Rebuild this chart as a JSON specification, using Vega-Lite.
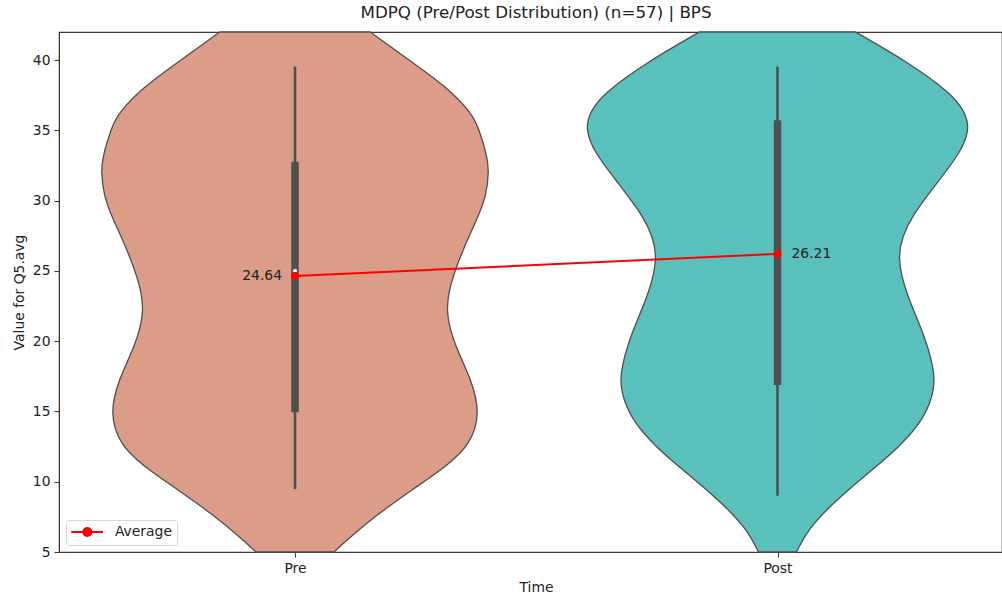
{
  "$schema": "https://vega.github.io/schema/vega-lite/v6.json",
  "width": 943,
  "height": 520,
  "autosize": {"type": "none"},
  "padding": {"left": 59, "top": 32, "right": 0, "bottom": 46},
  "background": "white",
  "config": {
    "font": "DejaVu Sans",
    "view": {"stroke": "#3a3a3a", "strokeWidth": 1.2},
    "axis": {
      "labelFont": "DejaVu Sans",
      "titleFont": "DejaVu Sans",
      "labelFontSize": 13.9,
      "titleFontSize": 13.9,
      "titleFontWeight": "normal",
      "labelColor": "#222222",
      "titleColor": "#222222",
      "tickColor": "#3a3a3a",
      "domainColor": "#3a3a3a",
      "tickSize": 5,
      "tickWidth": 1.1,
      "grid": false
    }
  },
  "title": {
    "text": "MDPQ (Pre/Post Distribution) (n=57) | BPS",
    "font": "DejaVu Sans",
    "fontSize": 16.7,
    "fontWeight": "normal",
    "color": "#222222",
    "anchor": "middle",
    "offset": 8,
    "dx": 5.5
  },
  "datasets": {
    "density": [
      {"Time": "Pre", "value": 5.0, "density": 0.201},
      {"Time": "Pre", "value": 5.85, "density": 0.268},
      {"Time": "Pre", "value": 7.55, "density": 0.412},
      {"Time": "Pre", "value": 9.49, "density": 0.61},
      {"Time": "Pre", "value": 11.18, "density": 0.789},
      {"Time": "Pre", "value": 12.64, "density": 0.902},
      {"Time": "Pre", "value": 14.82, "density": 0.955},
      {"Time": "Pre", "value": 17.24, "density": 0.911},
      {"Time": "Pre", "value": 19.67, "density": 0.823},
      {"Time": "Pre", "value": 22.09, "density": 0.775},
      {"Time": "Pre", "value": 24.03, "density": 0.799},
      {"Time": "Pre", "value": 26.46, "density": 0.863},
      {"Time": "Pre", "value": 28.88, "density": 0.945},
      {"Time": "Pre", "value": 30.34, "density": 0.985},
      {"Time": "Pre", "value": 32.03, "density": 1.0},
      {"Time": "Pre", "value": 33.25, "density": 0.99},
      {"Time": "Pre", "value": 35.19, "density": 0.945},
      {"Time": "Pre", "value": 36.16, "density": 0.915},
      {"Time": "Pre", "value": 38.1, "density": 0.782},
      {"Time": "Pre", "value": 40.04, "density": 0.584},
      {"Time": "Pre", "value": 42.0, "density": 0.387},
      {"Time": "Post", "value": 5.0, "density": 0.099},
      {"Time": "Post", "value": 6.58, "density": 0.156},
      {"Time": "Post", "value": 8.52, "density": 0.291},
      {"Time": "Post", "value": 10.46, "density": 0.457},
      {"Time": "Post", "value": 12.4, "density": 0.629},
      {"Time": "Post", "value": 14.58, "density": 0.769},
      {"Time": "Post", "value": 16.76, "density": 0.82},
      {"Time": "Post", "value": 18.21, "density": 0.81},
      {"Time": "Post", "value": 20.64, "density": 0.758},
      {"Time": "Post", "value": 23.55, "density": 0.662},
      {"Time": "Post", "value": 25.97, "density": 0.624},
      {"Time": "Post", "value": 27.43, "density": 0.649},
      {"Time": "Post", "value": 28.88, "density": 0.696},
      {"Time": "Post", "value": 31.31, "density": 0.831},
      {"Time": "Post", "value": 33.49, "density": 0.955},
      {"Time": "Post", "value": 35.19, "density": 1.0},
      {"Time": "Post", "value": 36.4, "density": 0.97},
      {"Time": "Post", "value": 37.61, "density": 0.904},
      {"Time": "Post", "value": 39.79, "density": 0.686},
      {"Time": "Post", "value": 42.0, "density": 0.405}
    ],
    "summary": [
      {"Time": "Pre", "mean": 24.64, "q1": 14.94, "q3": 32.76, "whiskerLow": 9.49, "whiskerHigh": 39.55, "median": 25.0, "series": "Average"},
      {"Time": "Post", "mean": 26.21, "q1": 16.88, "q3": 35.72, "whiskerLow": 9.0, "whiskerHigh": 39.55, "median": null, "series": "Average"}
    ]
  },
  "layer": [
    {
      "data": {"name": "density"},
      "transform": [{"filter": "datum.Time === 'Pre'"}],
      "mark": {"type": "area", "orient": "horizontal", "interpolate": "basis", "fill": "#DB9D88", "fillOpacity": 1, "stroke": "#4f4f4f", "strokeWidth": 1.3},
      "encoding": {
        "y": {"field": "value", "type": "quantitative", "title": "Value for Q5.avg",
              "scale": {"domain": [5, 42], "nice": false, "zero": false},
              "axis": {"values": [5, 10, 15, 20, 25, 30, 35, 40], "labelPadding": 4, "titlePadding": 6}},
        "x": {"field": "density", "type": "quantitative", "stack": "center",
              "scale": {"domain": [-0.10825, 2.32216], "nice": false, "zero": false}, "axis": null}
      }
    },
    {
      "data": {"name": "density"},
      "transform": [{"filter": "datum.Time === 'Post'"}],
      "mark": {"type": "area", "orient": "horizontal", "interpolate": "basis", "fill": "#59C0BB", "fillOpacity": 1, "stroke": "#4f4f4f", "strokeWidth": 1.3},
      "encoding": {
        "y": {"field": "value", "type": "quantitative", "title": "Value for Q5.avg",
              "scale": {"domain": [5, 42], "nice": false, "zero": false}},
        "x": {"field": "density", "type": "quantitative", "stack": "center",
              "scale": {"domain": [-1.36623, 1.08312], "nice": false, "zero": false}, "axis": null}
      }
    },
    {
      "data": {"name": "summary"},
      "encoding": {
        "x": {"field": "Time", "type": "nominal", "sort": ["Pre", "Post"], "title": "Time",
              "scale": {"type": "point", "padding": 0.4772, "align": 0.51249},
              "axis": {"orient": "bottom", "labelAngle": 0, "labelPadding": 4, "titlePadding": 6, "titleX": 477}}
      },
      "layer": [
        {
          "mark": {"type": "rule", "color": "#4f4f4f", "strokeWidth": 2.6},
          "encoding": {
            "y": {"field": "whiskerLow", "type": "quantitative", "title": "Value for Q5.avg", "scale": {"domain": [5, 42], "nice": false, "zero": false}},
            "y2": {"field": "whiskerHigh"}
          }
        },
        {
          "mark": {"type": "rule", "color": "#4f4f4f", "strokeWidth": 7.5},
          "encoding": {
            "y": {"field": "q1", "type": "quantitative", "title": "Value for Q5.avg", "scale": {"domain": [5, 42], "nice": false, "zero": false}},
            "y2": {"field": "q3"}
          }
        },
        {
          "mark": {"type": "point", "filled": true, "color": "#e8e8e8", "opacity": 1, "size": 18},
          "encoding": {
            "y": {"field": "median", "type": "quantitative", "title": "Value for Q5.avg", "scale": {"domain": [5, 42], "nice": false, "zero": false}}
          }
        },
        {
          "mark": {"type": "line", "strokeWidth": 2},
          "encoding": {
            "y": {"field": "mean", "type": "quantitative", "title": "Value for Q5.avg", "scale": {"domain": [5, 42], "nice": false, "zero": false}},
            "stroke": {"field": "series", "type": "nominal", "scale": {"range": ["#ff0000"]},
              "legend": {
                "title": null,
                "orient": "bottom-left",
                "offset": 7,
                "padding": 5,
                "symbolType": "M-1.34,0L5,0M1.06,0A0.8,0.8,0,1,1,2.66,0A0.8,0.8,0,1,1,1.06,0Z",
                "symbolSize": 100,
                "symbolStrokeWidth": 2,
                "labelFont": "DejaVu Sans",
                "labelFontSize": 13.9,
                "labelColor": "#222222",
                "labelOffset": 30,
                "strokeColor": "#d6d6d6",
                "fillColor": "white",
                "cornerRadius": 3,
                "encode": {"symbols": {"update": {"fill": {"value": "#ff0000"}, "stroke": {"value": "#ff0000"}, "opacity": {"value": 1}}}}
              }}
          }
        },
        {
          "mark": {"type": "point", "filled": true, "color": "#ff0000", "opacity": 1, "size": 64},
          "encoding": {
            "y": {"field": "mean", "type": "quantitative", "title": "Value for Q5.avg", "scale": {"domain": [5, 42], "nice": false, "zero": false}}
          }
        },
        {
          "transform": [{"filter": "datum.Time === 'Pre'"}],
          "mark": {"type": "text", "align": "right", "baseline": "middle", "dx": -13, "font": "DejaVu Sans", "fontSize": 13.9, "color": "#222222"},
          "encoding": {
            "y": {"field": "mean", "type": "quantitative", "title": "Value for Q5.avg", "scale": {"domain": [5, 42], "nice": false, "zero": false}},
            "text": {"field": "mean", "type": "quantitative", "format": ".2f"}
          }
        },
        {
          "transform": [{"filter": "datum.Time === 'Post'"}],
          "mark": {"type": "text", "align": "left", "baseline": "middle", "dx": 14, "font": "DejaVu Sans", "fontSize": 13.9, "color": "#222222"},
          "encoding": {
            "y": {"field": "mean", "type": "quantitative", "title": "Value for Q5.avg", "scale": {"domain": [5, 42], "nice": false, "zero": false}},
            "text": {"field": "mean", "type": "quantitative", "format": ".2f"}
          }
        }
      ]
    }
  ],
  "resolve": {"scale": {"x": "independent"}, "axis": {"x": "independent"}}
}
